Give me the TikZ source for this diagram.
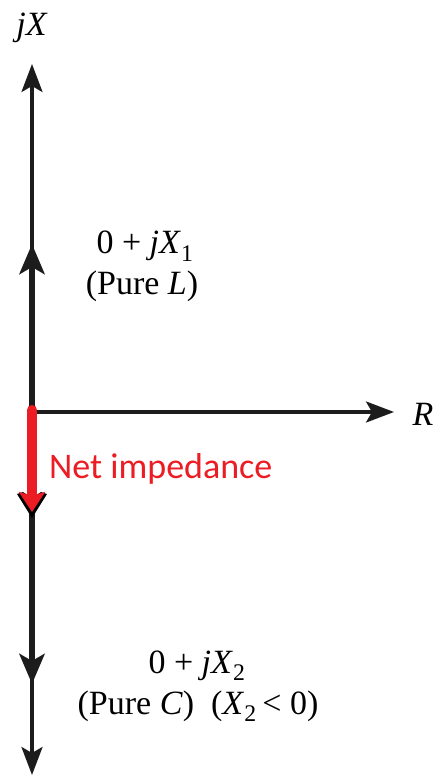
\documentclass[tikz,border=0pt]{standalone}
\usepackage{fontspec}
\setmainfont{Liberation Serif}
\newfontfamily\labelsans{Carlito}
\usetikzlibrary{arrows.meta}
\definecolor{netred}{RGB}{236,28,36}
\definecolor{axisblk}{RGB}{28,28,28}
\tikzset{
  thinaxis/.style={line width=3.2pt, draw=axisblk, -{Stealth[length=28pt,width=21pt,inset=6pt]}},
  thickvec/.style={line width=6pt, draw=axisblk, -{Stealth[length=30pt,width=25pt,inset=7pt]}},
  lbl/.style={font=\fontsize{34}{38}\selectfont, inner sep=0pt},
}
\begin{document}
\begin{tikzpicture}[x=1pt,y=-1pt]
\useasboundingbox (0,0) rectangle (437,775);
\coordinate (O) at (32,412);
\coordinate (Ytop) at (32,64);
\coordinate (Ybot) at (32,775);
\coordinate (Xend) at (394,412);
\coordinate (L) at (32,244);
\coordinate (C) at (32,684);
\coordinate (N) at (32,512);
% axes
\draw[thinaxis] (O) -- (Ytop);
\draw[thinaxis] (O) -- (Ybot);
\draw[thinaxis] (O) -- (Xend);
% vectors
\draw[thickvec] (O) -- (L);
\draw[thickvec] (O) -- (C);
% net impedance
\fill[black] (32,518) -- (17,494) -- (23,492) -- (32,498) -- (41,492) -- (47,494) -- cycle;
\draw[line width=10pt, draw=netred, line cap=round, -{Stealth[length=20pt,width=26pt,inset=4pt]}] (32,410) -- (N);
% labels
\node[lbl] (jx) at (32,28) {\textit{jX}};
\node[lbl] (r) at (423,414) {\textit{R}};
\node[lbl, anchor=base] (lz1) at (145,254) {0 + \textit{jX}\textsubscript{1}};
\node[lbl, anchor=base] (lz2) at (142,294) {(Pure \textit{L})};
\node[lbl, anchor=base] (cz1) at (197,673) {0 + \textit{jX}\textsubscript{2}};
\node[lbl, anchor=base] (cz2) at (198,714) {(Pure \textit{C})\ \ (\textit{X}\textsubscript{2}\,< 0)};
\node[font=\labelsans\fontsize{36}{39}\selectfont, text=netred, anchor=west, inner sep=0pt] (net) at (49,469) {Net impedance};
\end{tikzpicture}
\end{document}
